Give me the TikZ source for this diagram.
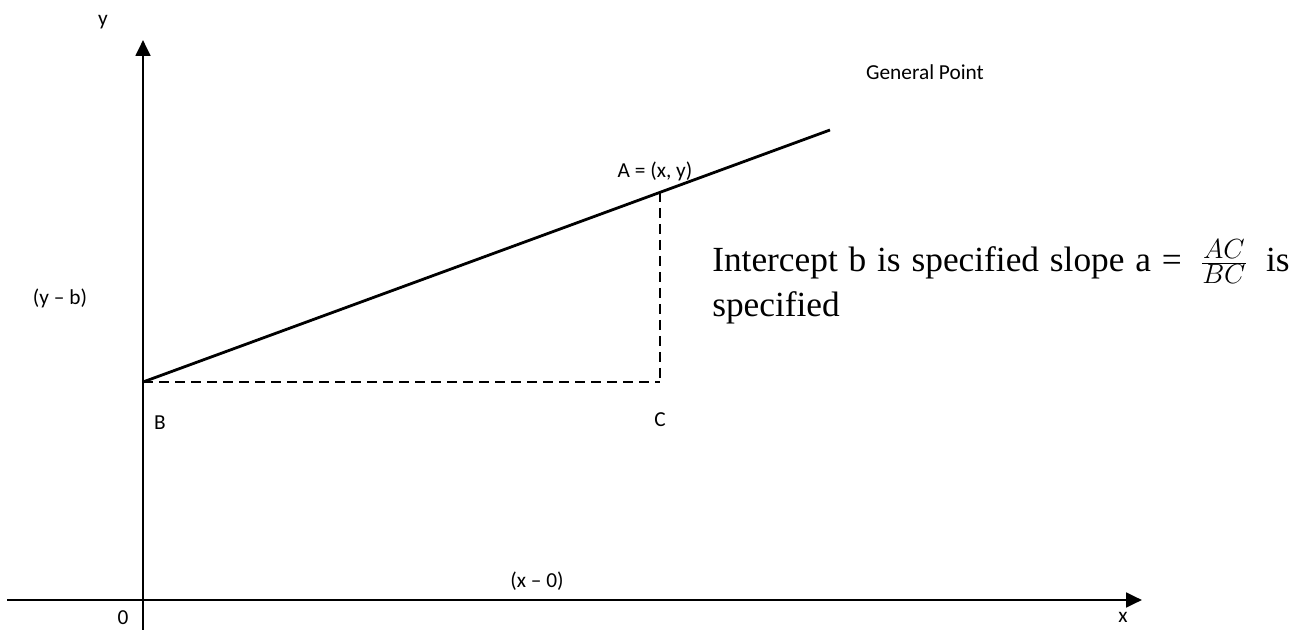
\documentclass[tikz,border=0pt]{standalone}
\usepackage{fontspec}
\setmainfont{Liberation Serif}
\newfontfamily\lbl{Carlito}
\usetikzlibrary{arrows.meta}
\tikzset{
  axis/.style={line width=2.1pt,-{Triangle[length=12pt,width=11pt]}},
  lineseg/.style={line width=2.1pt},
  dashseg/.style={line width=2.1pt,dash pattern=on 7.5pt off 4.5pt},
  lab/.style={font=\lbl\fontsize{16pt}{19pt}\selectfont,inner sep=0pt},
  body/.style={font=\fontsize{26.5pt}{34pt}\selectfont,inner sep=0pt,anchor=base west}
}
\begin{document}
\begin{tikzpicture}[x=0.75pt,y=-0.75pt]
\useasboundingbox[fill=white] (0,0) rectangle (1303,630);
% axes
\coordinate (ybot) at (143,630);
\coordinate (ytop) at (143,40);
\coordinate (xleft) at (7,600);
\coordinate (xright) at (1142,600);
\draw[axis] (ybot) -- (ytop);
\draw[axis] (xleft) -- (xright);
% points
\coordinate (B) at (143,382);
\coordinate (A) at (660,192);
\coordinate (C) at (660,382);
\coordinate (E) at (830,130);
\draw[lineseg] (B) -- (E);
\draw[dashseg] (B) -- (C);
\draw[dashseg] (A) -- (C);
% labels
\node[lab] (ly) at (103,22) {y};
\node[lab] (lx) at (1123,617) {x};
\node[lab] (l0) at (123,618) {0};
\node[lab] (lB) at (160,423) {B};
\node[lab] (lC) at (660,420) {C};
\node[lab] (lA) at (655,171) {A = (x, y)};
\node[lab] (lyb) at (60,298) {(y – b)};
\node[lab] (lx0) at (537,581) {(x – 0)};
\node[lab] (lgp) at (925,72) {General Point};
\node[body] (t1) at (712,272) {\makebox[433pt][s]{Intercept b is specified slope a = \hspace{6pt}{\fontsize{30pt}{30pt}\selectfont$\frac{AC}{BC}$}\hspace{6pt} is}};
\node[body] (t2) at (712,317) {specified};
\end{tikzpicture}
\end{document}
